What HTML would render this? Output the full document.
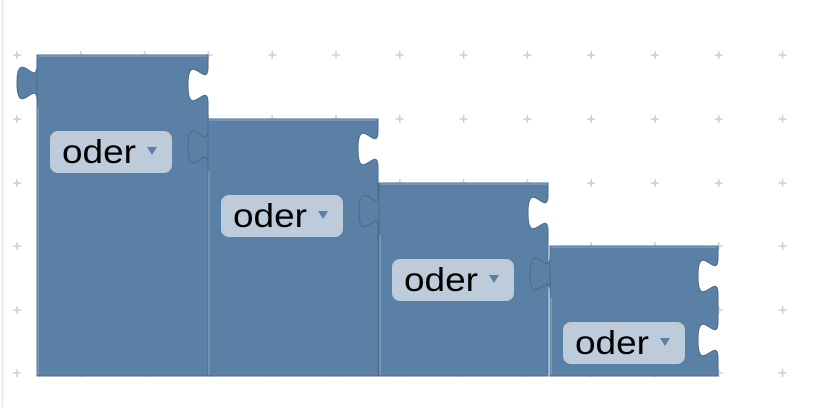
<!DOCTYPE html>
<html><head><meta charset="utf-8"><style>
html,body{margin:0;padding:0;background:#fff;width:820px;height:407px;overflow:hidden}
svg{display:block}
text{font-family:"Liberation Sans",sans-serif}
</style></head><body>
<svg width="820" height="407" viewBox="0 0 820 407" xmlns="http://www.w3.org/2000/svg">
<line x1="2.5" y1="0" x2="2.5" y2="407" stroke="#e4e4e4" stroke-width="1.5"/>
<g stroke="#cfcfcf" stroke-width="1.5" id="grid"></g>
<g id="blocks"></g>
</svg>
<script>
var g=document.getElementById('grid'),s='';
var xs=[],ys=[55,119,183,246,310,373];
for(var i=0;i<13;i++)xs.push(17+i*63.8);
xs.forEach(function(x){ys.forEach(function(y){s+='<line x1="'+(x-4)+'" y1="'+y+'" x2="'+(x+4)+'" y2="'+y+'"/><line x1="'+x+'" y1="'+(y-4)+'" x2="'+x+'" y2="'+(y+4)+'"/>';});});
g.innerHTML=s;
function notch(){return ' v 12 c 0,24 -20,-19 -20,18 s 20,-6 20,18';}
var B=[[37,208,55,[0]],[208,378,119,[0]],[379,548,183,[0]],[550,718,246,[0,64]]];
var h='';
B.forEach(function(b,k){
 var L=b[0],R=b[1],T=b[2],bot=376;
 var p='M '+L+' '+T+' H '+R;
 b[3].forEach(function(o){p+=' V '+(T+o)+notch();});
 p+=' V '+bot+' H '+L+' Z';
 h+='<path d="'+p+'" fill="#5b80a5" stroke="#4a6a8c" stroke-width="1"/>';
 var tp='M '+L+' '+(T+10)+' c 0,24 -20,-19 -20,18 s 20,-6 20,18 Z';
 h+='<path d="'+tp+'" fill="#5b80a5" stroke="#4a6a8c" stroke-width="1"/>';
 h+='<line x1="'+(L+1)+'" y1="'+(T+1)+'" x2="'+(R-1)+'" y2="'+(T+1)+'" stroke="#7f9cbb" stroke-width="1.5"/>';
 h+='<line x1="'+(L+1)+'" y1="'+(T+52)+'" x2="'+(L+1)+'" y2="'+(bot-1)+'" stroke="#7f9cbb" stroke-width="1.5"/>';
 var px=L+13,py=T+76;
 h+='<rect x="'+px+'" y="'+py+'" width="122" height="42" rx="8" fill="#bdcbdb"/>';
 h+='<text x="'+(px+12)+'" y="'+(py+32)+'" font-size="33" textLength="74" lengthAdjust="spacingAndGlyphs" fill="#000">oder</text>';
 h+='<path d="M '+(px+97)+' '+(py+16)+' h 10 l -5 8 z" fill="#5b80a5"/>';
});
document.getElementById('blocks').innerHTML=h;
</script>
</body></html>
